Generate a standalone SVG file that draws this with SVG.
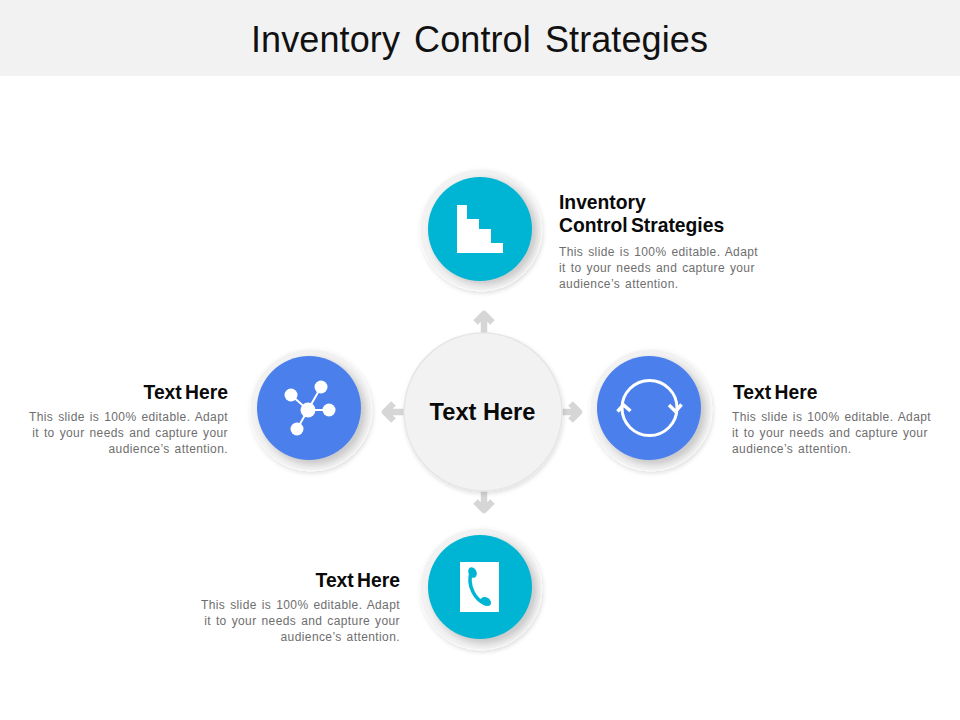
<svg xmlns="http://www.w3.org/2000/svg" width="960" height="720" viewBox="0 0 960 720">
<style>
text{font-family:"Liberation Sans",Arial,sans-serif}
.h{font-size:19.300px;font-weight:700;fill:#0a0a0a;word-spacing:-2px}
.b{font-size:12px;fill:#6e6e6e;letter-spacing:.4px;word-spacing:1.200px}
.e{text-anchor:end}
.ring{fill:#f2f2f2;stroke:#fafafa;stroke-width:1}
.shade{fill:#000;opacity:.16;filter:url(#bl)}
.teal{fill:#00b5d3}
.blue{fill:#4b80ec}
.arr{fill:none;stroke:#d6d6d6;stroke-width:6.500;stroke-linejoin:round}
.w{fill:#fff}
.wl{stroke:#fff;fill:none}
</style>
<defs>
<filter id="bl" x="-30%" y="-30%" width="160%" height="160%"><feGaussianBlur stdDeviation="3"/></filter>
<filter id="ringshadow" x="-30%" y="-30%" width="160%" height="160%"><feDropShadow dx="1" dy="2" stdDeviation="2" flood-color="#000" flood-opacity=".13"/></filter>
</defs>
<rect x="0" y="0" width="960" height="76" fill="#f2f2f2"/>
<text x="251" y="52" font-size="36" fill="#111" letter-spacing=".1" word-spacing="4">Inventory Control Strategies</text>

<g id="connectors">
<path class="arr" d="M484 333V314M475.500 322.500L484 314L492.500 322.500"/>
<path class="arr" d="M484 491V510M475.500 501.500L484 510L492.500 501.500"/>
<path class="arr" d="M404 412H385M393.500 403.500L385 412L393.500 420.500"/>
<path class="arr" d="M562 412H578M570.500 403.500L579 412L570.500 420.500"/>
</g>

<g id="node-center">
<circle cx="483" cy="412" r="79" fill="#f2f2f2" stroke="#e6e6e6" stroke-width="1.500" filter="url(#ringshadow)"/>
<text x="482.500" y="420" text-anchor="middle" font-size="23.600" font-weight="700" fill="#0a0a0a">Text Here</text>
</g>

<g id="node-top">
<circle class="ring" cx="481" cy="230" r="61" filter="url(#ringshadow)"/>
<circle class="shade" cx="484" cy="232" r="53"/>
<circle class="teal" cx="480" cy="229" r="52"/>
<path class="w" d="M457 205H467V219H479V229H491V243H503V253H457Z"/>
<text class="h"><tspan x="559" y="208.500">Inventory</tspan><tspan x="559" y="231.500">Control Strategies</tspan></text>
<text class="b"><tspan x="559" y="256">This slide is 100% editable. Adapt</tspan><tspan x="559" y="272">it to your needs and capture your</tspan><tspan x="559" y="288">audience’s attention.</tspan></text>
</g>

<g id="node-left">
<circle class="ring" cx="311" cy="410" r="61" filter="url(#ringshadow)"/>
<circle class="shade" cx="313" cy="412" r="53"/>
<circle class="blue" cx="309" cy="408" r="52"/>
<path class="wl" stroke-width="2" d="M291 395L308 410L321 387M308 410H329M308 410L297 429"/>
<circle class="w" cx="291" cy="395" r="6.500"/>
<circle class="w" cx="321" cy="387" r="6.500"/>
<circle class="w" cx="329" cy="410" r="6.500"/>
<circle class="w" cx="297" cy="429" r="6.500"/>
<circle class="w" cx="308" cy="410" r="7.500"/>
<text class="h e" x="228" y="398.500">Text Here</text>
<text class="b e"><tspan x="228" y="421">This slide is 100% editable. Adapt</tspan><tspan x="228" y="437">it to your needs and capture your</tspan><tspan x="228" y="453">audience’s attention.</tspan></text>
</g>

<g id="node-right">
<circle class="ring" cx="651" cy="410" r="61" filter="url(#ringshadow)"/>
<circle class="shade" cx="653" cy="412" r="53"/>
<circle class="blue" cx="649" cy="408" r="52"/>
<circle class="wl" stroke-width="3" cx="649.500" cy="408" r="27.500"/>
<path class="wl" stroke-width="3.500" d="M617.500 411.500L623.500 405L630.500 411M669 405L675.500 411.500L681.500 404.500"/>
<text class="h" x="733" y="398.500">Text Here</text>
<text class="b"><tspan x="732" y="421">This slide is 100% editable. Adapt</tspan><tspan x="732" y="437">it to your needs and capture your</tspan><tspan x="732" y="453">audience’s attention.</tspan></text>
</g>

<g id="node-bottom">
<circle class="ring" cx="481" cy="589" r="61" filter="url(#ringshadow)"/>
<circle class="shade" cx="484" cy="591" r="53"/>
<circle class="teal" cx="480" cy="587" r="52"/>
<rect class="w" x="460" y="562" width="39" height="50"/>
<path d="M471.500 571C469 578 470 586 473 592C476 598 480 602 486 604" fill="none" stroke="#00b5d3" stroke-width="3.500"/>
<ellipse cx="472.500" cy="572.500" rx="4" ry="5.500" class="teal" transform="rotate(-25 472.500 572.500)"/>
<ellipse cx="486" cy="601.500" rx="5.500" ry="4" class="teal" transform="rotate(35 486 601.500)"/>
<text class="h e" x="400" y="586.500">Text Here</text>
<text class="b e"><tspan x="400" y="609">This slide is 100% editable. Adapt</tspan><tspan x="400" y="625">it to your needs and capture your</tspan><tspan x="400" y="641">audience’s attention.</tspan></text>
</g>
</svg>
